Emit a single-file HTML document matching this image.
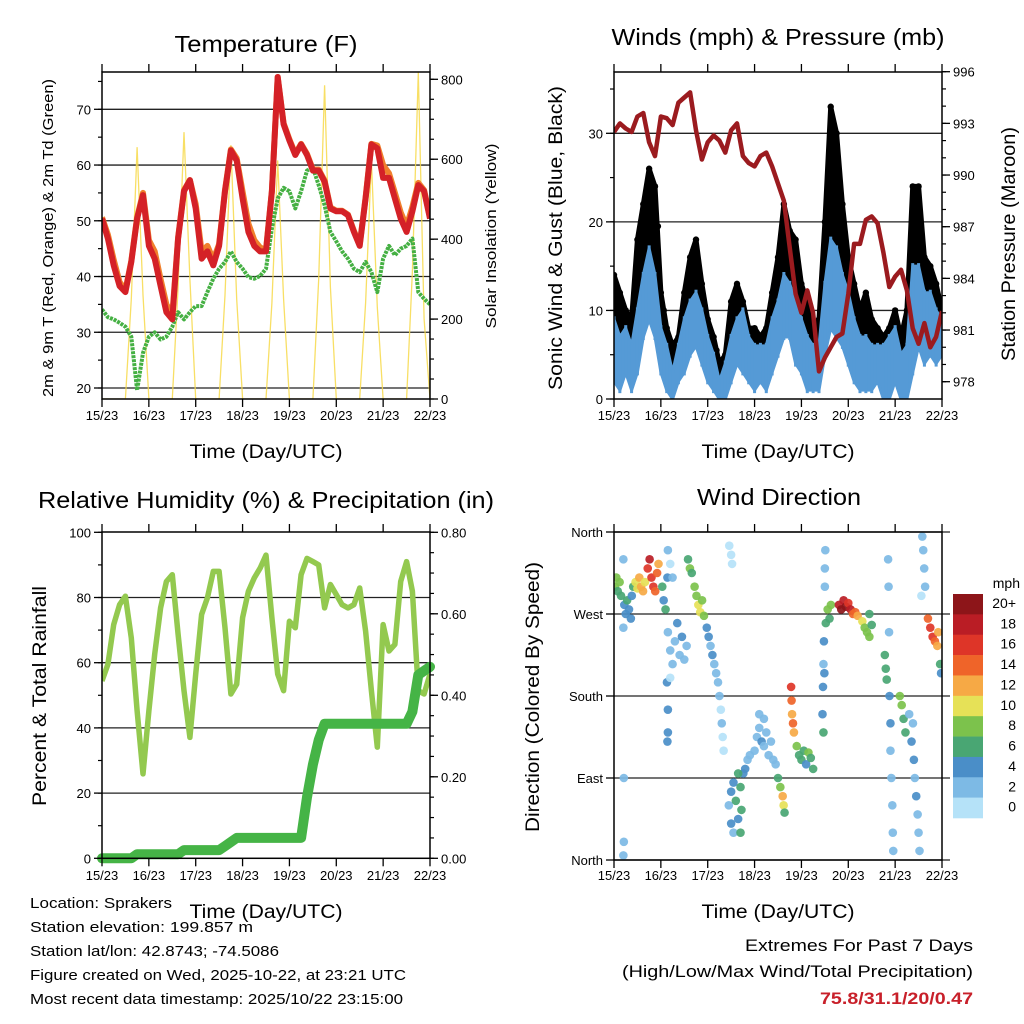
<!DOCTYPE html>
<html><head><meta charset="utf-8"><style>
html,body{margin:0;padding:0;background:#fff;}
svg{display:block;font-family:"Liberation Sans",Arial,sans-serif;}
</style></head><body>
<svg id="fig" width="1024" height="1024" viewBox="0 0 1024 1024" xmlns="http://www.w3.org/2000/svg">
<defs>
<clipPath id="c1"><rect x="102" y="72" width="328" height="327"/></clipPath>
<clipPath id="c2"><rect x="614" y="72" width="328" height="327"/></clipPath>
<clipPath id="c3"><rect x="102" y="532" width="328" height="327"/></clipPath>
<clipPath id="c4"><rect x="614" y="532" width="328" height="328"/></clipPath>
</defs>
<g id="g1"></g>
<g id="g2"></g>
<g id="g3"></g>
<g id="g4"></g>
<g id="gt">
<text x="266" y="52" font-size="23" text-anchor="middle" textLength="183" lengthAdjust="spacingAndGlyphs">Temperature (F)</text>
<text x="778" y="45" font-size="23" text-anchor="middle" textLength="333" lengthAdjust="spacingAndGlyphs">Winds (mph) &amp; Pressure (mb)</text>
<text x="266" y="508" font-size="23" text-anchor="middle" textLength="456" lengthAdjust="spacingAndGlyphs">Relative Humidity (%) &amp; Precipitation (in)</text>
<text x="779" y="505" font-size="23" text-anchor="middle" textLength="164" lengthAdjust="spacingAndGlyphs">Wind Direction</text>
<text x="266" y="458" font-size="19" text-anchor="middle" textLength="153" lengthAdjust="spacingAndGlyphs">Time (Day/UTC)</text>
<text x="778" y="458" font-size="19" text-anchor="middle" textLength="153" lengthAdjust="spacingAndGlyphs">Time (Day/UTC)</text>
<text x="266" y="918" font-size="19" text-anchor="middle" textLength="153" lengthAdjust="spacingAndGlyphs">Time (Day/UTC)</text>
<text x="778" y="918" font-size="19" text-anchor="middle" textLength="153" lengthAdjust="spacingAndGlyphs">Time (Day/UTC)</text>
<text transform="translate(53,238) rotate(-90)" font-size="15" text-anchor="middle" textLength="318" lengthAdjust="spacingAndGlyphs">2m &amp; 9m T (Red, Orange) &amp; 2m Td (Green)</text>
<text transform="translate(496,236) rotate(-90)" font-size="15" text-anchor="middle" textLength="185" lengthAdjust="spacingAndGlyphs">Solar Insolation (Yellow)</text>
<text transform="translate(562,238) rotate(-90)" font-size="19" text-anchor="middle" textLength="304" lengthAdjust="spacingAndGlyphs">Sonic Wind &amp; Gust (Blue, Black)</text>
<text transform="translate(1015,244) rotate(-90)" font-size="19" text-anchor="middle" textLength="234" lengthAdjust="spacingAndGlyphs">Station Pressure (Maroon)</text>
<text transform="translate(46,696) rotate(-90)" font-size="19" text-anchor="middle" textLength="220" lengthAdjust="spacingAndGlyphs">Percent &amp; Total Rainfall</text>
<text transform="translate(539,697) rotate(-90)" font-size="19" text-anchor="middle" textLength="270" lengthAdjust="spacingAndGlyphs">Direction (Colored By Speed)</text>
<text x="30" y="908" font-size="15" textLength="142" lengthAdjust="spacingAndGlyphs">Location: Sprakers</text>
<text x="30" y="932" font-size="15" textLength="223" lengthAdjust="spacingAndGlyphs">Station elevation: 199.857 m</text>
<text x="30" y="956" font-size="15" textLength="249" lengthAdjust="spacingAndGlyphs">Station lat/lon: 42.8743; -74.5086</text>
<text x="30" y="980" font-size="15" textLength="376" lengthAdjust="spacingAndGlyphs">Figure created on Wed, 2025-10-22, at 23:21 UTC</text>
<text x="30" y="1004" font-size="15" textLength="373" lengthAdjust="spacingAndGlyphs">Most recent data timestamp: 2025/10/22 23:15:00</text>
<text x="973" y="951" font-size="17" text-anchor="end" textLength="228" lengthAdjust="spacingAndGlyphs">Extremes For Past 7 Days</text>
<text x="973" y="977" font-size="17" text-anchor="end" textLength="351" lengthAdjust="spacingAndGlyphs">(High/Low/Max Wind/Total Precipitation)</text>
<text x="973" y="1004" font-size="17" font-weight="bold" fill="#c8202a" text-anchor="end" textLength="153" lengthAdjust="spacingAndGlyphs">75.8/31.1/20/0.47</text>
</g>
</svg>
<script>
// ---- data (3-hourly samples, index i -> hour 3*i since 15/23) ----
const dayLabels = ["15/23","16/23","17/23","18/23","19/23","20/23","21/23","22/23"];
const tempLabels = [20,30,40,50,60,70];
const solarLabels = [0,200,400,600,800];
const windLabels = [0,10,20,30];
const pressLabels = [978,981,984,987,990,993,996];
const rhLabels = [0,20,40,60,80,100];
const precipLabels = ["0.00","0.20","0.40","0.60","0.80"];
const dirLabels = ["North","East","South","West","North"];
const speedBinLabels = ["0","2","4","6","8","10","12","14","16","18","20+"];

const temp2m = [50.4,46.8,42,38.3,37.2,42.6,50.4,54.6,45.5,43.2,38.3,33.6,32.3,46.8,55.3,57.3,52.2,43.2,44.5,42,45.5,55.3,62.6,60.8,54,48,45.5,44.5,44.5,55.3,75.8,67.3,64.4,61.8,63.7,61.8,59,59,57,52.2,51.7,51.7,51,48,45.5,54,63.7,63,57.7,57.7,54,50.4,48,51.7,56.4,55.3,50.4];
const temp9m = [50.6,47.5,43,39,37.5,42.8,50.6,55,46.5,44.5,39.5,35,33,47,55.5,57.3,53,44.5,45.5,43,45.8,55.5,62.8,61.2,55.2,49.5,46.5,45.2,44.8,55.4,75.8,67.5,64.6,62,63.8,62,59.2,59.2,57.2,52.4,51.8,51.8,51.1,48.2,45.7,54.2,63.8,63.5,60,58.5,55,51.5,49,52.5,56.8,55.5,50.6];
const dewpt = [34.1,32.7,32.3,31.7,31,29.2,19.6,26.3,29.2,30,28.7,29.2,31,33.6,32.3,33.6,34.7,34.7,37.2,39.6,41.4,42.6,44.5,42.6,41.4,39.9,39.6,40.1,41.4,48.6,54,55.9,55.3,52.2,55.3,59,59.5,56.4,52.8,48,46.3,44.5,43.2,41.4,40.8,42.6,40.8,37.2,43.2,45.5,43.8,45,45.5,46.8,37.2,36,35];
const solar = [0,0,0,0,0,250,630,260, 0,0,0,0,0,280,668,300, 0,0,0,0,0,260,635,250, 0,0,0,0,0,240,597,250, 0,0,0,0,0,300,785,280, 0,0,0,0,0,240,597,230, 0,0,0,0,0,320,817,200, 0];

const pressure = [992.5,993,992.7,992.5,993.4,993.6,991.9,991.1,993.4,993.3,992.9,994.2,994.5,994.8,992.6,990.9,991.9,992.3,992,991.3,992.6,993,991.1,990.7,990.5,991.1,991.3,990.5,989.5,988.5,985.8,983.1,982,983.3,982,978.6,979.4,980,980.6,980.8,983.1,986,986,987.4,987.6,987.2,985.5,983.5,984.1,984.5,983.3,981.1,980.2,981.4,980,980.6,982.1];
const windLo = [2,1,3,1,3,7,9,7,3,1,0,2,3,5,6,4,2,1,0,0,2,4,3,2,1,2,1,3,5,7,7,4,3,1,1,1,5,8,7,6,4,2,1,1,1,2,0,0,2,0,0,3,6,4,5,4,5];
const windHi = [9,7,8,6,10,14,17,14,8,6,3,6,9,11,12,10,7,5,2,4,7,9,10,7,6,6,6,9,11,14,13,11,9,7,6,6,13,18,17,14,12,9,7,7,6,6,6,7,8,5,6,15,15,12,12,10,9];
const gustLo = [6,5,5,4,7,13,16,13,6,3,2,3,6,8,9,6,3,2,1,1,3,6,5,3,3,3,3,5,8,11,11,8,6,4,3,4,9,14,13,10,8,6,4,4,3,3,3,2,4,2,3,8,10,7,8,7,7];
const gustHi = [14,12,10,9,18,22,26,24,12,8,6,7,12,16,18,13,9,7,4,5,11,13,11,8,8,7,8,12,16,22,19,18,13,11,8,9,20,33,30,22,16,13,10,12,9,8,7,8,10,7,10,24,24,16,15,13,10];

const rh = [54.4,59.5,71.7,77.8,80.4,67.6,45.3,25.9,45.3,62.6,76.8,84.9,87,68.7,51.4,37.1,56.5,74.8,79.9,88,88,70.7,50.4,53.4,73.8,81.9,86,89,93,73.8,56.5,51.4,72.7,70.7,87,92,91,90,76.8,84,80.9,77.8,76.8,77.8,82.9,69.7,51.4,34.1,71.7,63.6,65.6,84.9,91,81.9,51.4,50.4,56.5];
const precip = [0,0,0,0,0,0,0.01,0.01,0.01,0.01,0.01,0.01,0.01,0.01,0.02,0.02,0.02,0.02,0.02,0.02,0.02,0.03,0.04,0.05,0.05,0.05,0.05,0.05,0.05,0.05,0.05,0.05,0.05,0.05,0.05,0.15,0.23,0.29,0.33,0.33,0.33,0.33,0.33,0.33,0.33,0.33,0.33,0.33,0.33,0.33,0.33,0.33,0.33,0.36,0.45,0.46,0.47];

const dirDay = [0.02,0.05,0.08,0.12,0.15,0.22,0.25,0.28,0.32,0.36,0.38,0.41,0.2,0.2,0.21,0.21,0.2,0.46,0.5,0.54,0.58,0.62,0.66,0.72,0.76,0.8,0.84,0.88,0.92,0.95,1.03,1.06,1.1,1.14,1.15,1.2,1.25,1.3,1.35,1.4,1.45,1.5,1.55,1.13,1.15,1.15,1.14,1.2,1.15,1.2,1.25,1.58,1.62,1.66,1.72,1.76,1.8,1.84,1.88,1.92,1.98,2.02,2.06,2.1,2.14,2.18,2.22,2.25,2.28,2.3,2.32,2.34,2.46,2.5,2.52,2.45,2.5,2.55,2.6,2.65,2.7,2.72,2.76,2.8,2.85,2.5,2.55,2.9,2.65,2.7,3.0,3.05,3.1,3.15,3.2,3.25,3.3,3.35,3.4,3.45,3.1,3.2,3.5,3.55,3.6,3.62,3.64,3.78,3.79,3.8,3.82,3.84,3.9,3.95,4.0,4.05,4.1,4.15,4.2,4.25,4.45,4.46,4.47,4.48,4.5,4.5,4.51,4.49,4.47,4.52,4.56,4.6,4.63,4.8,4.85,4.9,4.95,5.0,5.05,5.1,5.15,5.2,5.3,5.35,5.4,5.45,5.5,5.45,5.78,5.8,5.82,5.85,5.86,5.88,5.9,5.9,5.92,5.94,5.95,5.96,5.87,6.1,6.14,6.18,6.22,6.3,6.35,6.4,6.42,6.45,6.48,6.5,6.52,6.38,6.58,6.6,6.62,6.64,6.56,6.7,6.75,6.8,6.85,6.9,6.92,6.96,6.98];
const dirDeg = [300,310,295,305,290,280,270,285,275,265,290,300,330,255,90,20,5,305,298,310,300,295,305,320,330,310,300,295,315,325,300,285,275,310,250,230,215,240,260,225,245,220,235,195,165,140,130,200,340,325,310,330,320,315,300,290,280,272,285,268,255,245,235,225,215,205,195,180,165,150,135,120,345,335,325,60,75,85,65,45,80,55,95,100,110,40,30,115,95,30,120,135,145,130,125,140,115,130,110,105,160,155,90,80,70,60,52,190,175,160,150,140,125,115,110,120,105,118,112,100,160,190,215,240,300,320,340,205,140,260,275,265,280,280,275,285,278,282,275,270,272,268,262,255,250,245,258,270,225,210,198,330,300,180,150,120,90,60,30,10,250,180,170,155,140,160,130,110,90,70,50,30,10,150,355,340,320,300,290,265,255,245,240,235,250,215,205];
const dirSpd = [8,9,7,8,6,5,4,6,5,4,5,6,3,2,2,2,3,10,11,12,13,12,11,16,18,17,16,15,14,12,6,5,6,5,2,3,2,3,4,3,4,2,3,4,4,5,4,1,2,1,2,7,8,7,8,9,10,10,9,8,4,4,3,4,3,2,2,2,1,2,1,1,1,1,1,2,5,4,6,5,7,6,5,4,3,4,3,3,6,6,2,3,3,4,3,2,3,2,3,2,2,2,6,8,12,11,7,16,14,13,15,12,9,7,6,7,5,8,7,6,4,4,3,4,2,2,2,5,6,7,8,6,9,18,20,19,20,17,18,15,14,12,10,8,9,8,7,6,7,6,7,2,2,4,4,3,3,2,2,3,3,8,9,7,6,3,4,4,3,4,3,2,2,2,3,2,3,2,1,15,16,16,14,13,12,6,5];

// ---- helpers ----
const NS = "http://www.w3.org/2000/svg";
function mk(parent, tag, attrs){ const e=document.createElementNS(NS,tag); for(const k in attrs) e.setAttribute(k,attrs[k]); parent.appendChild(e); return e; }
function lin(d0,d1,r0,r1){ return v => r0+(v-d0)*(r1-r0)/(d1-d0); }
const hours = temp2m.map((_,i)=>i*3/24);
function pts(xs, ys, fx, fy){ return xs.map((x,i)=>fx(x).toFixed(1)+","+fy(ys[i]).toFixed(1)).join(" "); }

function frame(g, L,R,T,B, name){
  const f = mk(g,"rect",{x:L,y:T,width:R-L,height:B-T,fill:"none",stroke:"#000","stroke-width":1.5});
  
  
}
function xAxis(g, L,R,T,B, labY, name){
  const fx = lin(0,7,L,R);
  dayLabels.forEach((lab,i)=>{
    const x=fx(i);
    mk(g,"line",{x1:x,x2:x,y1:T-8,y2:T,stroke:"#000","stroke-width":1.3});
    mk(g,"line",{x1:x,x2:x,y1:B,y2:B+8,stroke:"#000","stroke-width":1.3});
    const t = mk(g,"text",{x:x,y:labY,"font-size":13,"text-anchor":"middle"});
    t.textContent = lab;
    
    
  });
}
function grid(g, L,R, y, ext){
  mk(g,"line",{x1:L,x2:ext||R,y1:y,y2:y,stroke:"#222","stroke-width":1.3});
}
function yTicks(g, side, x0, fy, majors, minors, labels, name){
  const dir = side==="left"?-1:1;
  minors.forEach(v=>{ const y=fy(v); mk(g,"line",{x1:x0,x2:x0+dir*4,y1:y,y2:y,stroke:"#000","stroke-width":1.2}); });
  majors.forEach((v,i)=>{
    const y=fy(v);
    mk(g,"line",{x1:x0,x2:x0+dir*8,y1:y,y2:y,stroke:"#000","stroke-width":1.3});
    if(labels){
      const t = mk(g,"text",{x:x0+dir*11,y:y+5,"font-size":13,"text-anchor":side==="left"?"end":"start"});
      t.textContent = labels[i];
      
      
    }
  });
}
function range(a,b,s){ const r=[]; for(let v=a; v<=b+1e-9; v+=s) r.push(+v.toFixed(4)); return r; }

// ---- Panel 1: temperature ----
(function(){
  const g=document.getElementById("g1");
  const L=102,R=430,T=72,B=399;
  const fx=lin(0,7,L,R), fy=lin(20,70,388,109.3), fs=lin(0,800,399,79.3);
  tempLabels.forEach(v=>grid(g,L,R,fy(v)));
  const c=mk(g,"g",{"clip-path":"url(#c1)"});
  const s=mk(c,"polyline",{points:pts(hours,solar,fx,fs),fill:"none",stroke:"#f7d94a","stroke-width":1.3,"stroke-opacity":0.85});
  
  
  const d=mk(c,"polyline",{points:pts(hours,dewpt,fx,fy),fill:"none",stroke:"#45b043","stroke-width":4,"stroke-dasharray":"3 1","stroke-linejoin":"round"});
  
  
  const o=mk(c,"polyline",{points:pts(hours,temp9m,fx,fy),fill:"none",stroke:"#f07f2c","stroke-width":6,"stroke-linejoin":"round"});
  
  
  const r=mk(c,"polyline",{points:pts(hours,temp2m,fx,fy),fill:"none",stroke:"#d42127","stroke-width":6,"stroke-linejoin":"round"});
  
  
  frame(g,L,R,T,B,"temperature");
  xAxis(g,L,R,T,B,420,"temperature");
  yTicks(g,"left",L,fy,tempLabels,range(20,75,5),tempLabels,"temperature");
  yTicks(g,"right",R,fs,solarLabels,range(0,800,50),solarLabels,"solar");
})();

// ---- Panel 2: wind & pressure ----
(function(){
  const g=document.getElementById("g2");
  const L=614,R=942,T=72,B=399;
  const fx=lin(0,7,L,R), fy=lin(0,30,399,133.3), fp=lin(978,996,381.7,71.7);
  [10,20,30].forEach(v=>grid(g,L,R,fy(v)));
  const c=mk(g,"g",{"clip-path":"url(#c2)"});
  const up = hours.map((h,i)=>fx(h).toFixed(1)+","+fy(gustHi[i]).toFixed(1));
  const dn = hours.map((h,i)=>fx(h).toFixed(1)+","+fy(gustLo[i]).toFixed(1)).reverse();
  const gp=mk(c,"polygon",{points:up.concat(dn).join(" "),fill:"#000",stroke:"#000","stroke-width":5,"stroke-linejoin":"round"});
  
  
  hours.forEach((h,i)=>{
    const dot=mk(c,"circle",{cx:fx(h),cy:fy(gustHi[i]),r:3.2,fill:"#000"});
    
    
    const dot2=mk(c,"circle",{cx:fx(h+1/16),cy:fy((gustHi[i]+gustLo[i])/2+1),r:3.2,fill:"#000"});
    
    
  });
  const bu = hours.map((h,i)=>fx(h).toFixed(1)+","+fy(windHi[i]).toFixed(1));
  const bd = hours.map((h,i)=>fx(h).toFixed(1)+","+fy(windLo[i]).toFixed(1)).reverse();
  const bp=mk(c,"polygon",{points:bu.concat(bd).join(" "),fill:"#559ad6",stroke:"#559ad6","stroke-width":3,"stroke-linejoin":"round"});
  
  
  hours.forEach((h,i)=>{
    const ln=mk(c,"line",{x1:fx(h),x2:fx(h),y1:fy(windLo[i])+3,y2:fy(windHi[i])-3,stroke:"#559ad6","stroke-width":3});
    
    
  });
  const p=mk(c,"polyline",{points:pts(hours,pressure,fx,fp),fill:"none",stroke:"#9b1b1f","stroke-width":4.5,"stroke-linejoin":"round"});
  
  
  frame(g,L,R,T,B,"wind");
  xAxis(g,L,R,T,B,420,"wind");
  yTicks(g,"left",L,fy,windLabels,range(0,35,5),windLabels,"wind");
  yTicks(g,"right",R,fp,pressLabels,range(978,996,1),pressLabels,"pressure");
})();

// ---- Panel 3: RH & precip ----
(function(){
  const g=document.getElementById("g3");
  const L=102,R=430,T=532,B=858.3;
  const fx=lin(0,7,L,R), fy=lin(0,100,858.3,532.3), fp=lin(0,0.8,858.3,532.3);
  [20,40,60,80].forEach(v=>grid(g,L,R,fy(v)));
  const c=mk(g,"g",{"clip-path":"url(#c3)"});
  const r=mk(c,"polyline",{points:pts(hours,rh,fx,fy),fill:"none",stroke:"#93c94f","stroke-width":5.5,"stroke-linejoin":"round"});
  
  
  const pr=mk(g,"polyline",{points:pts(hours,precip,fx,fp),fill:"none",stroke:"#45b446","stroke-width":10,"stroke-linejoin":"round","stroke-linecap":"round"});
  
  
  frame(g,L,R,T,B,"humidity");
  xAxis(g,L,R,T,B,880,"humidity");
  yTicks(g,"left",L,fy,rhLabels,range(0,100,10),rhLabels,"humidity");
  yTicks(g,"right",R,fp,[0,0.2,0.4,0.6,0.8],range(0,0.8,0.05),precipLabels,"precip");
})();

// ---- Panel 4: wind direction ----
(function(){
  const g=document.getElementById("g4");
  const L=614,R=942,T=532,B=860;
  const fx=lin(0,7,L,R), fy=lin(0,360,860,532);
  const colors=["#b5e2f8","#7dbae5","#4a8ec8","#49a673","#7cc24c","#e6e157","#f6a945","#ef6429","#de3528","#ba1d25","#8d1519"];
  [0,90,180,270,360].forEach(v=>grid(g,L,R,fy(v),950));
  const c=mk(g,"g",{"clip-path":"url(#c4)"});
  dirDay.forEach((d,i)=>{
    const bin=Math.min(10,Math.floor(dirSpd[i]/2));
    const dot=mk(c,"circle",{cx:fx(d),cy:fy(dirDeg[i]),r:4.3,fill:colors[bin],"fill-opacity":0.92});
    
    
  });
  frame(g,L,R,T,B,"direction");
  xAxis(g,L,R,T,B,880,"direction");
  yTicks(g,"left",L,fy,[0,90,180,270,360],[],dirLabels,"direction");
  const cb=mk(g,"g",{});
  
  
  const top=594, h=224/11;
  const mph=mk(cb,"text",{x:1020,y:588,"font-size":14,"text-anchor":"end"});
  mph.textContent="mph";
  
  
  speedBinLabels.slice().reverse().forEach((lab,k)=>{
    const ci=10-k;
    const rc=mk(cb,"rect",{x:953,y:top+k*h,width:30,height:h+0.3,fill:colors[ci]});
    
    
    const t=mk(cb,"text",{x:1016,y:top+k*h+14,"font-size":14,"text-anchor":"end"});
    t.textContent=lab;
    
    
  });
})();
</script>
</body></html>
